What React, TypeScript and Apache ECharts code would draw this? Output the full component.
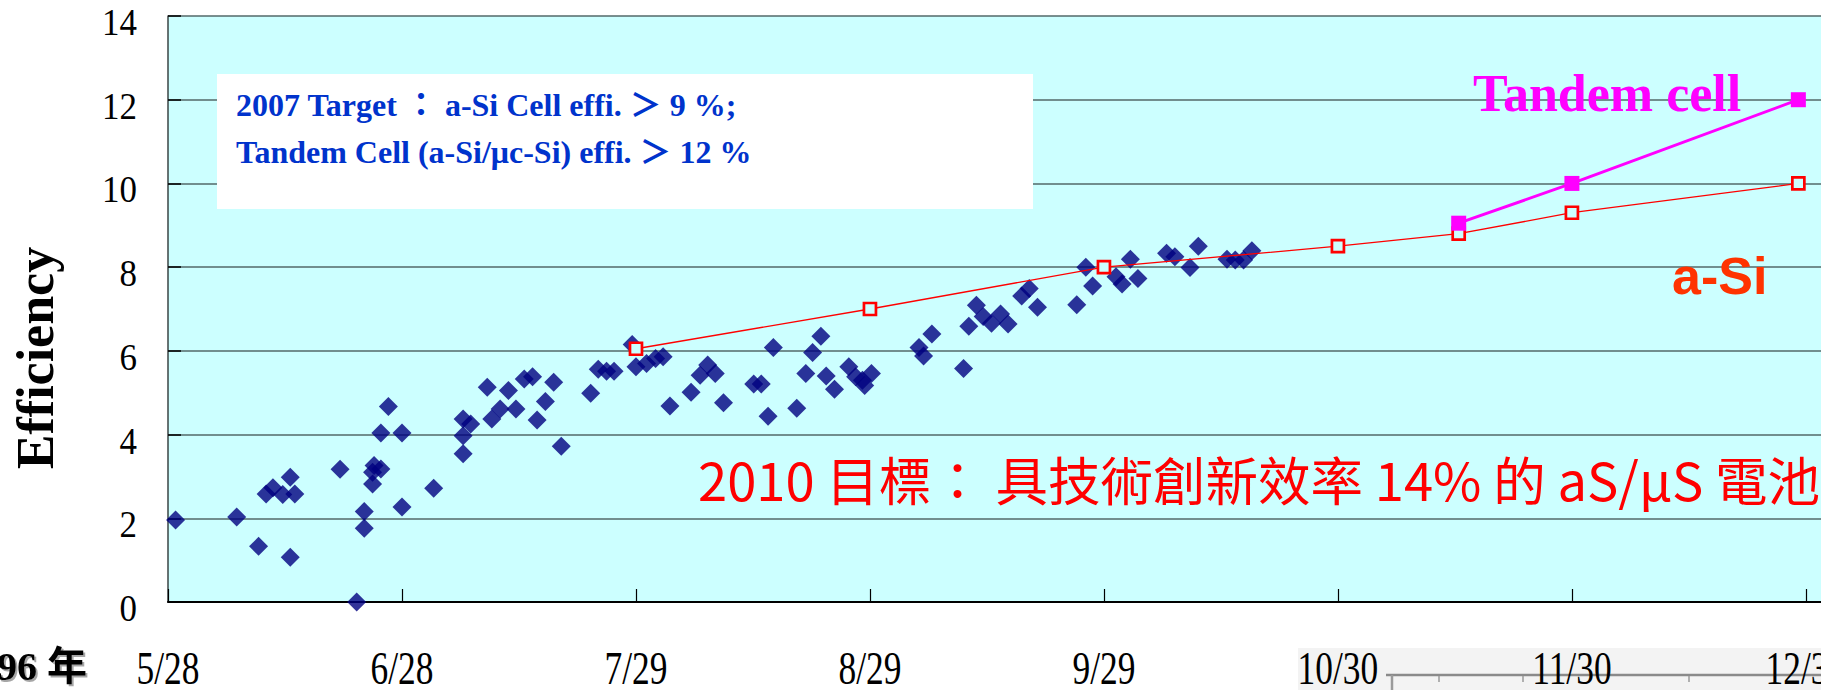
import React, { useEffect, useRef } from "react";
import * as echarts from "echarts";

// x values are days counted from 5/28 (96年 = 2007); ticks every 31 days
const tickDays = [0, 31, 62, 93, 124, 155, 186, 217];
const tickLabels = ["5/28", "6/28", "7/29", "8/29", "9/29", "10/30", "11/30", "12/31"];
const yTicks = [0, 2, 4, 6, 8, 10, 12, 14];

const cellDays = [
  1.0, 9.1, 12.0, 13.0, 13.9, 15.2, 16.2, 16.8, 16.2, 22.8, 25.0, 26.0, 26.0, 27.1, 27.1, 27.3, 28.2, 28.2,
  29.2, 31.0, 31.0, 35.2, 39.1, 40.1, 39.1, 39.1, 42.3, 42.9, 44.0, 45.1, 46.1, 47.2, 48.3, 48.9, 50.0,
  51.1, 52.1, 56.0, 57.0, 58.1, 59.1, 61.5,
  62.0, 63.4, 64.6, 65.6, 66.5, 69.3, 70.5, 71.5, 72.5, 73.6, 77.6, 78.6, 79.5, 80.2, 83.3, 84.5, 85.4,
  86.5, 87.2, 88.3, 90.2, 91.1, 92.0, 92.3, 93.2, 99.5, 100.1, 101.2, 105.4, 106.1, 107.1, 108.0, 109.1,
  110.3, 111.3, 113.1, 114.1, 115.2,
  120.4, 121.6, 122.5, 125.6, 126.4, 127.5, 128.5, 132.3, 133.4, 135.4, 136.5, 140.3, 141.4, 142.5, 143.6,
];
const cellEff = [
  1.96, 2.03, 1.33, 2.58, 2.73, 2.57, 2.98, 2.58, 1.07, 3.17, 0.0, 2.16, 1.76, 2.82, 3.1, 3.26, 3.18, 4.04,
  4.67, 4.04, 2.27, 2.72, 4.37, 4.25, 3.97, 3.54, 5.13, 4.37, 4.61, 5.05, 4.61, 5.33, 5.38, 4.35, 4.79,
  5.25, 3.72, 4.99, 5.56, 5.51, 5.51, 6.15,
  5.62, 5.7, 5.82, 5.86, 4.68, 5.01, 5.42, 5.66, 5.46, 4.76, 5.21, 5.21, 4.44, 6.08, 4.63, 5.46, 5.96,
  6.35, 5.4, 5.08, 5.62, 5.38, 5.3, 5.17, 5.46, 6.08, 5.88, 6.4, 5.58, 6.59, 7.09, 6.82, 6.66,
  6.88, 6.64, 7.31, 7.49, 7.04,
  7.1, 8.0, 7.55, 7.77, 7.6, 8.19, 7.73, 8.33, 8.25, 7.99, 8.5, 8.19, 8.17, 8.17, 8.39,
];

const aSiDays = [62, 93, 124, 155, 171, 186, 216];
const aSiEff = [6.05, 7.0, 8.0, 8.5, 8.8, 9.3, 10.0];
const tandemDays = [171, 186, 216];
const tandemEff = [9.05, 10.0, 12.0];

const targetLine1 = "2007 Target ： a-Si Cell effi. ＞ 9 %;";
const targetLine2 = "Tandem Cell (a-Si/μc-Si) effi. ＞ 12 %";
const goal2010 = "2010 目標： 具技術創新效率 14% 的 aS/μS 電池";

export default function App() {
  const ref = useRef<HTMLDivElement>(null);
  useEffect(() => {
    document.body.style.margin = "0";
    if (!ref.current) return;
    const chart = echarts.init(ref.current, null, { renderer: "svg" });
    const zip = (xs: number[], ys: number[]) => xs.map((x, i) => [x, ys[i]]);
    chart.setOption({
      animation: false,
      backgroundColor: "#ffffff",
      grid: {
        left: 168,
        right: 0,
        top: 16,
        bottom: 88,
        show: true,
        backgroundColor: "#CCFFFF",
        borderWidth: 0,
      },
      xAxis: {
        type: "value",
        min: 0,
        max: 219,
        axisLine: { show: true, onZero: false, lineStyle: { color: "#000", width: 2 } },
        axisTick: {
          show: true,
          inside: true,
          length: 13,
          customValues: tickDays,
          lineStyle: { color: "#000", width: 1.2 },
        },
        axisLabel: { show: false },
        splitLine: { show: false },
      },
      yAxis: {
        type: "value",
        min: 0,
        max: 14,
        interval: 2,
        axisLine: { show: true, lineStyle: { color: "#3a4545", width: 1.5 } },
        axisTick: { show: true, inside: true, length: 13, lineStyle: { color: "#000", width: 1.5 } },
        axisLabel: { show: false },
        splitLine: { show: true, lineStyle: { color: "#536868", width: 1.5 } },
      },
      series: [
        {
          name: "cells",
          type: "scatter",
          symbol: "diamond",
          symbolSize: 19,
          itemStyle: { color: "#000080" },
          data: zip(cellDays, cellEff),
          z: 2,
        },
        {
          name: "a-Si",
          type: "line",
          symbol: "rect",
          symbolSize: 12,
          showAllSymbol: true,
          lineStyle: { color: "#FF0000", width: 1.3 },
          itemStyle: { color: "#CCFFFF", borderColor: "#FF0000", borderWidth: 2.7 },
          data: zip(aSiDays, aSiEff),
          z: 3,
        },
        {
          name: "Tandem",
          type: "line",
          symbol: "rect",
          symbolSize: 15,
          showAllSymbol: true,
          lineStyle: { color: "#FF00FF", width: 3 },
          itemStyle: { color: "#FF00FF" },
          data: zip(tandemDays, tandemEff),
          z: 4,
        },
      ],
    });

    const labelY = 668;
    const xLabelTexts = tickDays.map((d, i) => {
      const p = chart.convertToPixel({ gridIndex: 0 }, [d, 0]) as number[];
      return {
        type: "text",
        x: p[0],
        y: labelY,
        scaleX: 0.77,
        z: 20,
        style: {
          text: tickLabels[i],
          fontFamily: "'Liberation Serif', serif",
          fontSize: 46,
          lineHeight: 40,
          fill: "#000",
          textAlign: "center",
          textVerticalAlign: "middle",
        },
      };
    });
    const yLabelTexts = yTicks.map((v) => {
      const p = chart.convertToPixel({ gridIndex: 0 }, [0, v]) as number[];
      return {
        type: "text",
        x: p[0] - 31,
        y: p[1] + 6,
        scaleX: 0.92,
        z: 20,
        style: {
          text: String(v),
          fontFamily: "'Liberation Serif', serif",
          fontSize: 38,
          fill: "#000",
          textAlign: "right",
          textVerticalAlign: "middle",
        },
      };
    });

    chart.setOption({
      graphic: [
        // pasted image fragment, bottom right
        { type: "rect", z: 5, shape: { x: 1298, y: 648, width: 540, height: 50 }, style: { fill: "#f3f3f3" } },
        { type: "line", z: 6, shape: { x1: 1386, y1: 675, x2: 1821, y2: 675 }, style: { stroke: "#8a8a8a", lineWidth: 2.5 } },
        { type: "line", z: 6, shape: { x1: 1392, y1: 675, x2: 1392, y2: 690 }, style: { stroke: "#9a9a9a", lineWidth: 2.5 } },
        { type: "line", z: 6, shape: { x1: 1439, y1: 676, x2: 1439, y2: 682 }, style: { stroke: "#9a9a9a", lineWidth: 1.5 } },
        { type: "line", z: 6, shape: { x1: 1523, y1: 676, x2: 1523, y2: 682 }, style: { stroke: "#9a9a9a", lineWidth: 1.5 } },
        { type: "line", z: 6, shape: { x1: 1689, y1: 676, x2: 1689, y2: 682 }, style: { stroke: "#9a9a9a", lineWidth: 1.5 } },
        // target box
        { type: "rect", z: 10, shape: { x: 217, y: 74, width: 816, height: 135 }, style: { fill: "#ffffff" } },
        {
          type: "text", z: 11, x: 236, y: 105,
          style: {
            text: targetLine1, fontFamily: "'Liberation Serif', 'Noto Sans CJK TC', serif",
            fontWeight: "bold", fontSize: 32, fill: "#0033CC", textVerticalAlign: "middle",
          },
        },
        {
          type: "text", z: 11, x: 236, y: 152,
          style: {
            text: targetLine2, fontFamily: "'Liberation Serif', 'Noto Sans CJK TC', serif",
            fontWeight: "bold", fontSize: 32, fill: "#0033CC", textVerticalAlign: "middle",
          },
        },
        {
          type: "text", z: 11, x: 1473, y: 93,
          style: {
            text: "Tandem cell", fontFamily: "'Liberation Serif', serif",
            fontWeight: "bold", fontSize: 52, fill: "#FF00FF", textVerticalAlign: "middle",
          },
        },
        {
          type: "text", z: 11, x: 1672, y: 276,
          style: {
            text: "a-Si", fontFamily: "'Liberation Sans', sans-serif",
            fontWeight: "bold", fontSize: 52, fill: "#FF3300", textVerticalAlign: "middle",
          },
        },
        {
          type: "text", z: 11, x: 698, y: 478,
          style: {
            text: goal2010, fontFamily: "'Noto Sans CJK TC', sans-serif",
            fontSize: 52.5, fill: "#FF0000", textVerticalAlign: "middle",
          },
        },
        {
          type: "text", z: 11, x: 35, y: 358, rotation: Math.PI / 2,
          style: {
            text: "Efficiency", fontFamily: "'Liberation Serif', serif",
            fontWeight: "bold", fontSize: 52, fill: "#000", textAlign: "center", textVerticalAlign: "middle",
          },
        },
        {
          type: "text", z: 11, x: -3, y: 666,
          style: {
            text: "96 年", fontFamily: "'Liberation Serif', 'Noto Sans CJK TC', serif",
            fontWeight: "bold", fontSize: 40, fill: "#000", textVerticalAlign: "middle",
            textShadowColor: "rgba(0,0,0,0.35)", textShadowOffsetX: 2, textShadowOffsetY: 2, textShadowBlur: 1,
          },
        },
        ...yLabelTexts,
        ...xLabelTexts,
      ],
    });
    return () => chart.dispose();
  }, []);
  return <div ref={ref} style={{ width: 1821, height: 690 }} />;
}
